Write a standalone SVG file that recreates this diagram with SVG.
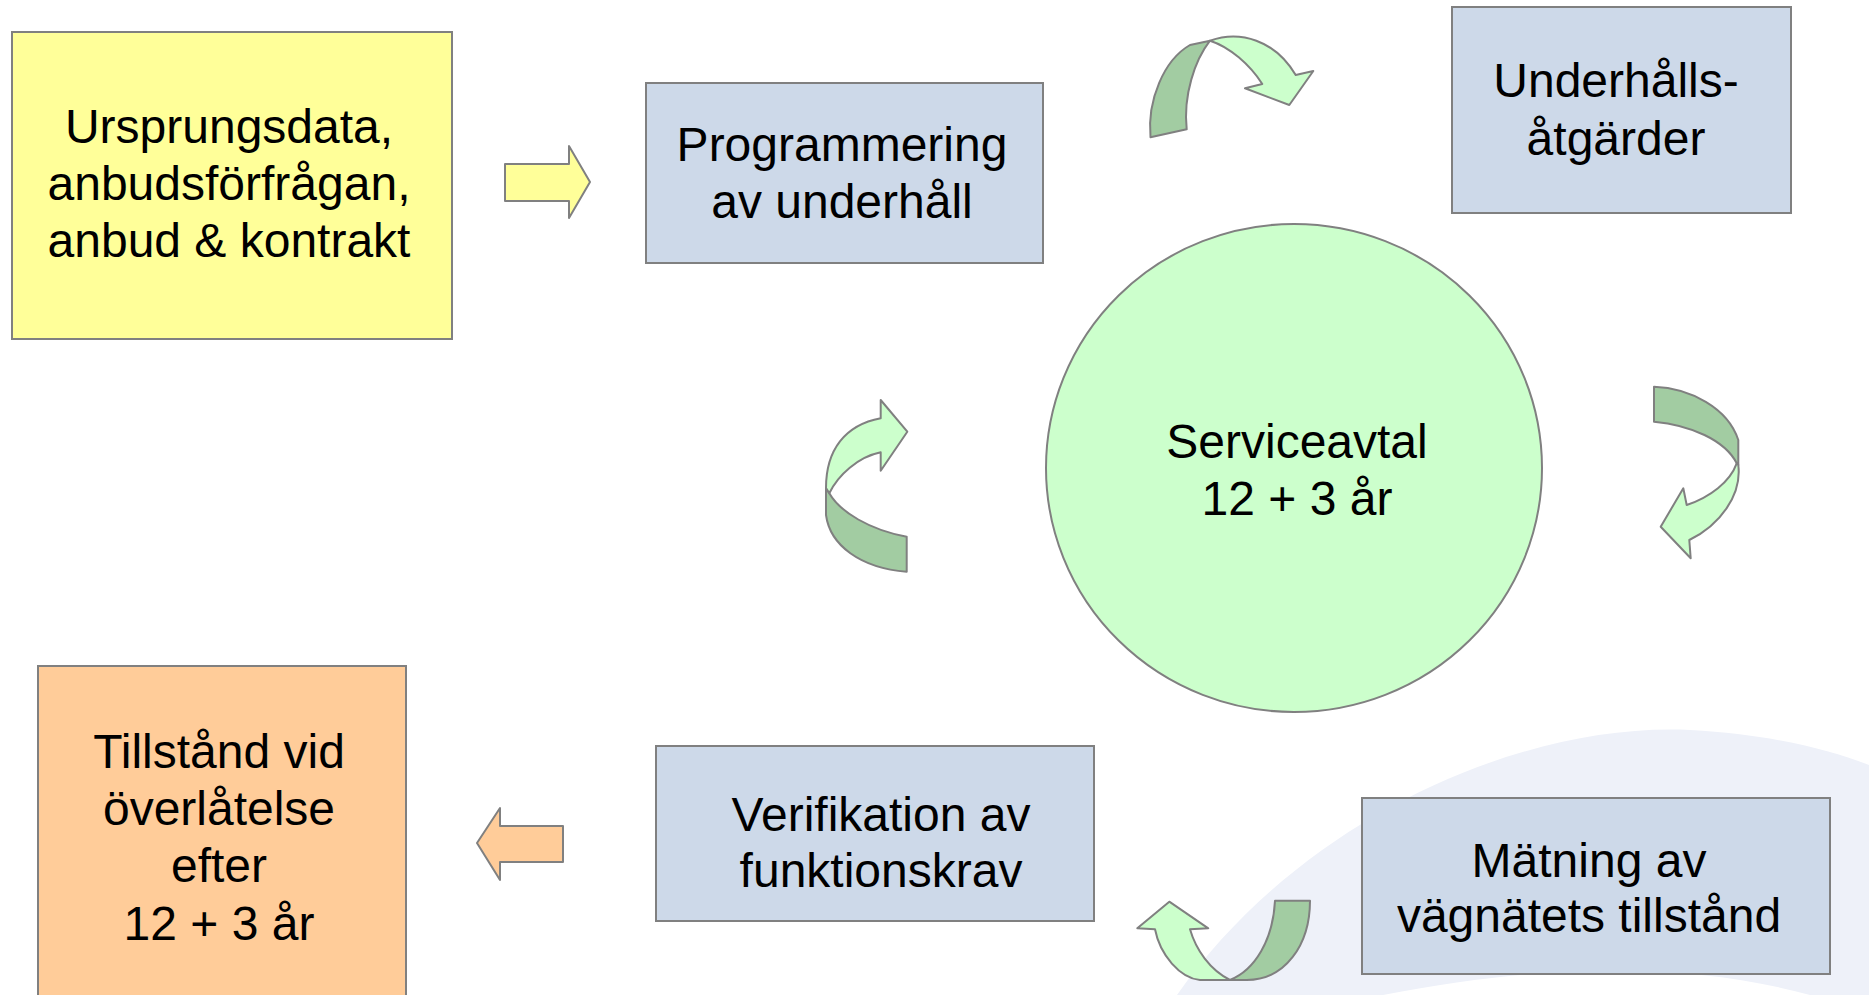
<svg xmlns="http://www.w3.org/2000/svg" width="1869" height="995" viewBox="0 0 1869 995">
<style>
.t{font-family:"Liberation Sans",Arial,sans-serif;font-size:48px;fill:#000;text-anchor:middle}
.box{stroke:#808080;stroke-width:2}
.blue{fill:#CDD9E9}
.sh{stroke:#808080;stroke-width:2;stroke-linejoin:round}
.lg{fill:#CCFFCC}
.dg{fill:#A2CCA2}
</style>
<rect width="1869" height="995" fill="#FFFFFF"/>
<path d="M1177,995 C1300,820 1520,722 1690,730 C1770,734 1830,750 1869,765 L1869,995 L1810,995 C1700,965 1560,960 1383,995 Z" fill="#EEF1F9"/>
<g id="ursprung">
<rect class="box" x="12" y="32" width="440" height="307" fill="#FFFF99"/>
<text class="t" x="229" y="143">Ursprungsdata,</text>
<text class="t" x="229" y="200">anbudsförfrågan,</text>
<text class="t" x="229" y="257">anbud &amp; kontrakt</text>
</g>
<g id="programmering">
<rect class="box blue" x="646" y="83" width="397" height="180"/>
<text class="t" x="842" y="161">Programmering</text>
<text class="t" x="842" y="218">av underhåll</text>
</g>
<g id="underhall">
<rect class="box blue" x="1452" y="7" width="339" height="206"/>
<text class="t" x="1616" y="97">Underhålls-</text>
<text class="t" x="1616" y="155">åtgärder</text>
</g>
<g id="serviceavtal">
<ellipse cx="1294" cy="468" rx="248" ry="244" fill="#CCFFCC" stroke="#808080" stroke-width="2"/>
<text class="t" x="1297" y="458">Serviceavtal</text>
<text class="t" x="1297" y="515">12 + 3 år</text>
</g>
<g id="verifikation">
<rect class="box blue" x="656" y="746" width="438" height="175"/>
<text class="t" x="881" y="831">Verifikation av</text>
<text class="t" x="881" y="887">funktionskrav</text>
</g>
<g id="matning">
<rect class="box blue" x="1362" y="798" width="468" height="176"/>
<text class="t" x="1589" y="877">Mätning av</text>
<text class="t" x="1589" y="932">vägnätets tillstånd</text>
</g>
<g id="tillstand">
<rect class="box" x="38" y="666" width="368" height="340" fill="#FFCC99"/>
<text class="t" x="219" y="768">Tillstånd vid</text>
<text class="t" x="219" y="825">överlåtelse</text>
<text class="t" x="219" y="882">efter</text>
<text class="t" x="219" y="940">12 + 3 år</text>
</g>
<g id="connectors">
<path class="sh" fill="#FFFF99" d="M505,164 L569,164 L569,146 L590,182 L569,218 L569,201 L505,201 Z"/>
<path class="sh" fill="#FFCC99" d="M477,843 L500,808 L500,826 L563,826 L563,862 L500,862 L500,880 Z"/>
<path class="sh dg" d="M1150.5,137.3 C1147,100 1164,60 1190,45 L1210,40.7 C1195,60 1183,95 1186.7,129.3 Z"/>
<path class="sh lg" d="M1210,40.7 C1240,30 1275,40 1295.7,75 L1313.3,71 L1289.3,105 L1245,88.3 L1262.3,84 C1250,65 1230,47 1210,40.7 Z"/>
<path class="sh dg" d="M1654,386.7 L1654,421.7 C1690,425 1725,440 1736.7,463.3 L1738.3,465 L1738.3,440 C1728,408 1690,388 1654,386.7 Z"/>
<path class="sh lg" d="M1738.3,465 C1742,495 1720,525 1689.3,540 L1690.7,558.3 L1660.7,526.7 L1683.3,488.3 L1686.7,505 C1710,497 1730,482 1736.7,463.3 Z"/>
<path class="sh dg" d="M1275,900.7 L1310,900.7 C1310,945 1285,980 1246.7,980 L1230,980 C1255,970 1273,940 1275,900.7 Z"/>
<path class="sh lg" d="M1230,980 L1200,980 C1180,978 1160,955 1155,929.3 L1137.3,928.3 L1169.3,901.7 L1208.3,928.3 L1190,929.3 C1196,950 1210,970 1230,980 Z"/>
<path class="sh dg" d="M826,488 L826,515 C830,545 860,568 906.7,571.7 L906.7,536.7 C870,530 840,512 829.3,493.3 Z"/>
<path class="sh lg" d="M826,488 C826,450 845,425 880.7,418.3 L880.7,400 L907.3,431.7 L880.7,470.7 L880.7,452.3 C858,457 838,475 829.3,493.3 Z"/>
</g>
</svg>
